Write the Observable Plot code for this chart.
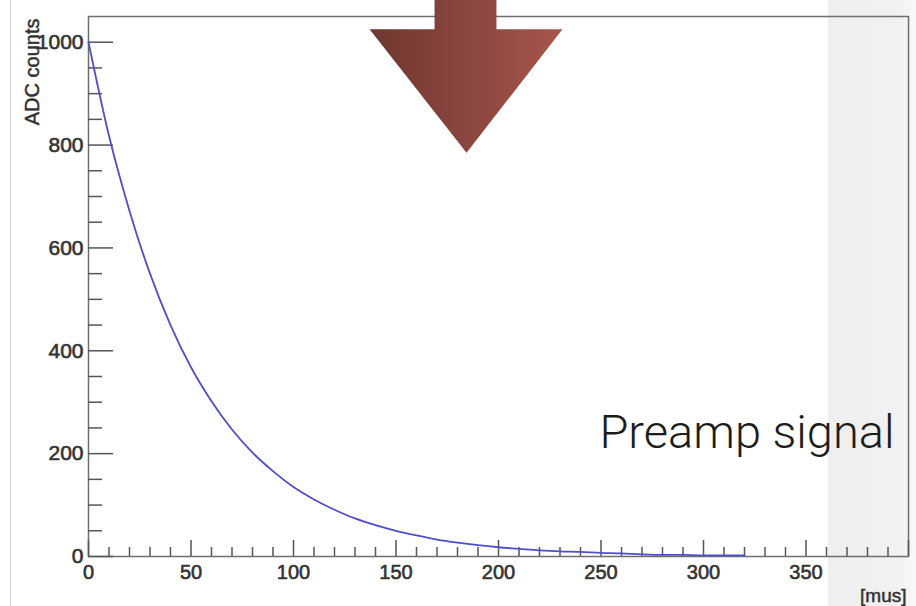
<!DOCTYPE html>
<html><head><meta charset="utf-8">
<script src="https://cdn.jsdelivr.net/npm/d3@7"></script>
<script src="https://cdn.jsdelivr.net/npm/@observablehq/plot@0.6"></script>
<style>
html,body{margin:0;padding:0;background:#fff;}
#wrap{position:relative;width:916px;height:606px;overflow:hidden;}
.band{position:absolute;top:0;bottom:0;left:828px;width:88px;background:linear-gradient(to right,#efefef,#f1f1f1 80%,#f8f8f8);}
.edge{position:absolute;top:0;bottom:0;left:10px;width:1px;background:#d4d4d4;}
#chart{position:absolute;left:0;top:0;}
</style></head><body>
<div id="wrap"><div class="band"></div><div class="edge"></div><div id="chart"></div></div>
<script>
// Signal readings (time in mus, ADC counts)
const timeMus = [0, 10, 20, 30, 40, 50, 60, 70, 80, 90, 100, 110, 120, 130, 140, 150, 160, 170, 180, 190, 200, 210, 220, 230, 240, 250, 260, 270, 280, 290, 300, 310, 320];
const adcCounts = [1000, 818, 672, 550, 450, 368, 302, 247, 202, 166, 135, 111, 91, 74, 61, 50, 41, 33, 27, 22, 18, 15, 12, 10, 9, 7, 6, 4, 3, 3, 2, 2, 2];

// Axis ticks
const xMajorTicks = [0, 50, 100, 150, 200, 250, 300, 350, 400];
const xTickLabels = [0, 50, 100, 150, 200, 250, 300, 350];
const xMinorTicks = d3.range(0, 400, 10).filter(v => v % 50 !== 0);
const yMajorTicks = [0, 200, 400, 600, 800, 1000];
const yMinorTicks = d3.range(0, 1050, 50).filter(v => v % 200 !== 0);

// Texts
const yTitle = "ADC counts";
const xUnit = "[mus]";
const annotation = "Preamp signal";

// Arrow annotation outline (data units)
const arrowX = [168.8, 199.0, 199.0, 231.2, 184.4, 137.1, 168.8, 168.8];
const arrowY = [1090, 1090, 1025, 1025, 785, 1025, 1025, 1090];

const signal = timeMus.map((t, i) => ({t, v: adcCounts[i]}));
const arrow = arrowX.map((x, i) => ({x, y: arrowY[i]}));

const tickStroke = "#555";
const labelColor = "#333";
const fmt = d => String(d);
const chart = Plot.plot({
  width: 916, height: 606,
  marginLeft: 88, marginRight: 8, marginTop: 16, marginBottom: 50,
  style: {background: "transparent", fontFamily: "'Liberation Sans', Arial, sans-serif", color: labelColor, overflow: "visible"},
  x: {domain: [0, 400]},
  y: {domain: [0, 1050]},
  marks: [
    Plot.frame({stroke: "#6e6e6e", strokeWidth: 1.5}),
    Plot.axisX(xMinorTicks, {tickSize: -9, fill: "none", stroke: tickStroke, strokeWidth: 1.5, label: null}),
    Plot.axisX(xMajorTicks, {tickSize: -16, fill: "none", stroke: tickStroke, strokeWidth: 1.5, label: null}),
    Plot.axisX(xTickLabels, {tickSize: 0, tickPadding: 8, fontSize: 20, fill: labelColor, textStroke: labelColor, textStrokeWidth: 0.6, tickFormat: fmt, label: null}),
    Plot.axisY(yMinorTicks, {tickSize: -14, fill: "none", stroke: tickStroke, strokeWidth: 1.5, label: null}),
    Plot.axisY(yMajorTicks, {tickSize: -25, fill: "none", stroke: tickStroke, strokeWidth: 1.5, label: null}),
    Plot.axisY(yMajorTicks, {tickSize: 0, tickPadding: 5, fontSize: 21, fill: labelColor, textStroke: labelColor, textStrokeWidth: 0.6, tickFormat: fmt, label: null}),
    Plot.line(signal, {x: "t", y: "v", stroke: "#4f4fcc", strokeWidth: 1.8, curve: "monotone-x"}),
    Plot.text([yTitle], {frameAnchor: "top-left", rotate: -90, textAnchor: "end", lineAnchor: "middle", dx: -56, dy: 2, fontSize: 20, fill: labelColor, stroke: labelColor, strokeWidth: 0.5}),
    Plot.text([xUnit], {frameAnchor: "bottom-right", textAnchor: "end", lineAnchor: "bottom", dx: -2, dy: 45, fontSize: 19, fill: labelColor, stroke: labelColor, strokeWidth: 0.5}),
    Plot.text([annotation], {frameAnchor: "bottom-right", textAnchor: "end", lineAnchor: "middle", dx: -14, dy: -124, fontSize: 47, fontFamily: "Roboto, 'Liberation Sans', sans-serif", fontWeight: 300, fill: "#1c1c1c"}),
    Plot.line(arrow, {x: "x", y: "y", fill: "url(#arrowGrad)", stroke: "none", curve: "linear"})
  ]
});
chart.insertAdjacentHTML("afterbegin",
  '<defs><linearGradient id="arrowGrad" x1="0" y1="0" x2="1" y2="0">' +
  '<stop offset="0" stop-color="#6e372f"/><stop offset="0.5" stop-color="#8a4640"/><stop offset="1" stop-color="#a8564a"/>' +
  '</linearGradient></defs>');
document.getElementById("chart").appendChild(chart);
</script>
</body></html>
